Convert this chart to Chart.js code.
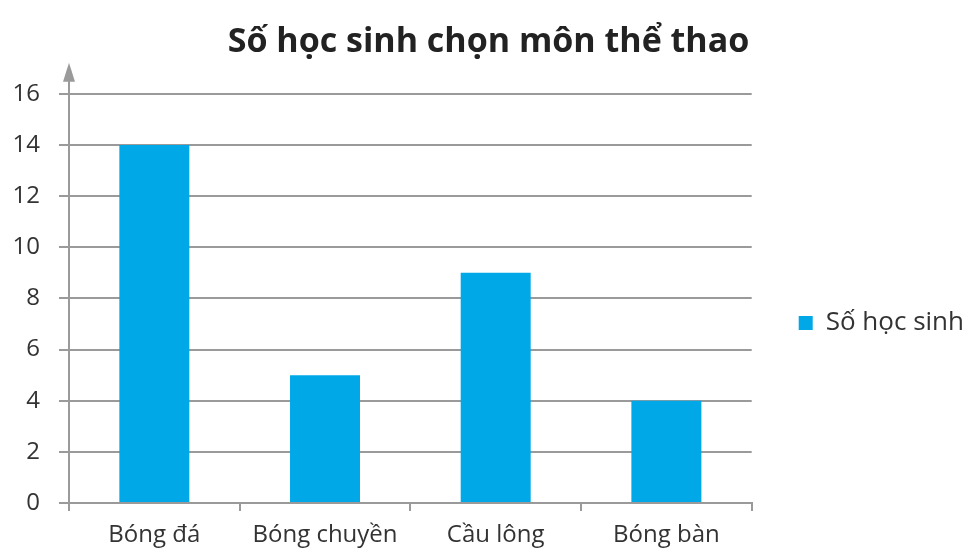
<!DOCTYPE html>
<html>
<head>
<meta charset="utf-8">
<script src="https://cdn.jsdelivr.net/npm/chart.js@4.4.1/dist/chart.umd.min.js"></script>
<style>
  html, body { margin: 0; padding: 0; background: #fff; }
  #wrap { width: 967px; height: 554px; }
</style>
</head>
<body>
<div id="wrap"><canvas id="barchart"></canvas></div>
<script>
    // chart data
    var categories = ['Bóng đá', 'Bóng chuyền', 'Cầu lông', 'Bóng bàn'];
    var students = [14, 5, 9, 4];
    var seriesName = 'Số học sinh';
    var chartTitle = 'Số học sinh chọn môn thể thao';
    var yMin = 0, yMax = 16, yStep = 2;

    var axisGrey = '#9a9a9a';
    var textGrey = '#333333';

    // arrow on top of the y axis, small nudges for legend and title
    var extras = {
        id: 'extras',
        afterLayout: function(chart) {
            chart.legend.top += 46;
            chart.legend.bottom += 46;
            chart.legend.left += 37;
            chart.legend.right += 37;
            chart.titleBlock.left += 20;
            chart.titleBlock.right += 20;
        },
        afterDraw: function(chart) {
            var ctx = chart.ctx;
            var x = chart.scales.y.left + chart.scales.y.width;
            var top = chart.chartArea.top;
            ctx.save();
            ctx.strokeStyle = axisGrey;
            ctx.fillStyle = axisGrey;
            ctx.lineWidth = 2;
            ctx.beginPath();
            ctx.moveTo(x, top);
            ctx.lineTo(x, top - 18);
            ctx.stroke();
            ctx.beginPath();
            ctx.moveTo(x, top - 31);
            ctx.lineTo(x - 6, top - 12);
            ctx.lineTo(x + 6, top - 12);
            ctx.closePath();
            ctx.fill();
            ctx.restore();
        }
    };

    var myChart = new Chart(document.getElementById('barchart'), {
        type: 'bar',
        data: {
            labels: categories,
            datasets: [{
                label: seriesName,
                data: students,
                backgroundColor: '#00a8e8',
                borderWidth: 0,
                barPercentage: 0.41,
                categoryPercentage: 1,
            }]
        },
        plugins: [extras],
        options: {
            responsive: true,
            maintainAspectRatio: false,
            animation: false,
            layout: {
                padding: { left: 0, right: 30, top: 0, bottom: 0 }
            },
            plugins: {
                title: {
                    display: true,
                    text: chartTitle,
                    color: '#222222',
                    font: { family: 'Open Sans', size: 34, weight: 'bold' },
                    padding: { top: 22, bottom: 31 },
                },
                legend: {
                    display: true,
                    position: 'right',
                    labels: {
                        color: textGrey,
                        font: { family: 'Open Sans', size: 26 },
                        boxWidth: 14,
                        boxHeight: 14,
                        padding: 10,
                    },
                },
                tooltip: { enabled: false },
            },
            scales: {
                x: {
                    afterFit: function(scale) { scale.height = 51; },
                    grid: {
                        display: true,
                        drawOnChartArea: false,
                        drawTicks: true,
                        tickLength: 8,
                        color: axisGrey,
                        lineWidth: 2,
                    },
                    border: { color: axisGrey, width: 2 },
                    ticks: {
                        color: textGrey,
                        font: { family: 'Open Sans', size: 24 },
                        padding: 10,
                    },
                },
                y: {
                    min: yMin,
                    max: yMax,
                    afterFit: function(scale) { scale.width = 69; },
                    grid: {
                        color: axisGrey,
                        lineWidth: 2,
                        tickLength: 10,
                    },
                    border: { color: axisGrey, width: 2 },
                    ticks: {
                        stepSize: yStep,
                        color: textGrey,
                        font: { family: 'Open Sans', size: 24 },
                        padding: 19,
                    },
                },
            },
        }
    });
</script>
</body>
</html>
